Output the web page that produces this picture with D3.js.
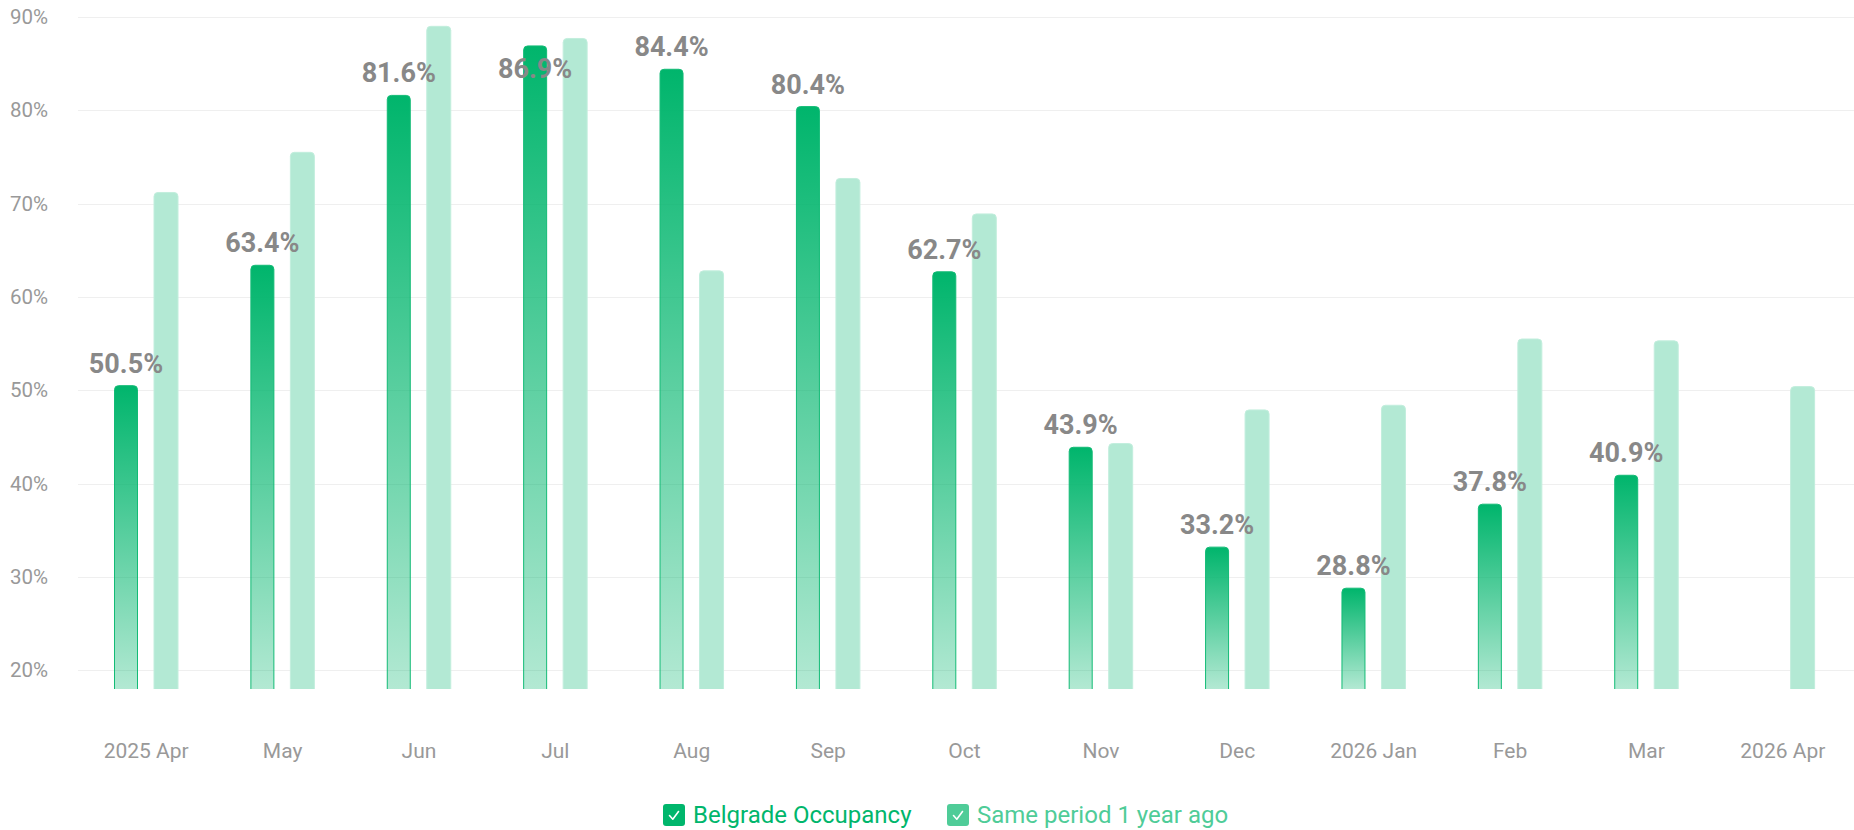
<!DOCTYPE html>
<html>
<head>
<meta charset="utf-8">
<script src="https://cdn.jsdelivr.net/npm/d3@7/dist/d3.min.js"></script>
<style>
  html, body { margin: 0; padding: 0; background: #fff; }
  svg { display: block; font-family: Roboto, "Noto Sans", sans-serif; }
</style>
</head>
<body>
<div id="chart"></div>
<script>
// chart data
const months = ["2025 Apr", "May", "Jun", "Jul", "Aug", "Sep", "Oct", "Nov", "Dec", "2026 Jan", "Feb", "Mar", "2026 Apr"];
const occupancy = [50.5, 63.4, 81.6, 86.9, 84.4, 80.4, 62.7, 43.9, 33.2, 28.8, 37.8, 40.9, null];
const lastYear = [71.2, 75.5, 89.0, 87.7, 62.8, 72.7, 68.9, 44.3, 47.9, 48.4, 55.5, 55.3, 50.4];
const yTicks = [20, 30, 40, 50, 60, 70, 80, 90];
const seriesNames = ["Belgrade Occupancy", "Same period 1 year ago"];

const width = 1854, height = 830;
const margin = {top: 17, right: 3, bottom: 141, left: 78};

const svg = d3.select("#chart")
    .append("svg")
    .attr("width", width)
    .attr("height", height);

// gradient for the current series
const defs = svg.append("defs");
const grad = defs.append("linearGradient")
    .attr("id", "curGrad")
    .attr("x1", 0).attr("y1", 0).attr("x2", 0).attr("y2", 1);
grad.append("stop").attr("offset", "0%").attr("stop-color", "#00b56c").attr("stop-opacity", 1);
grad.append("stop").attr("offset", "100%").attr("stop-color", "#00b56c").attr("stop-opacity", 0.3);

const x = d3.scaleBand()
    .domain(months)
    .range([margin.left, width - margin.right])
    .padding(0);

const xSub = d3.scaleBand()
    .domain(["cur", "prev"])
    .range([36, 100])
    .paddingInner(0.4)
    .paddingOuter(0);

const y = d3.scaleLinear()
    .domain([18, 90])
    .range([height - margin.bottom, margin.top]);

// grid lines
svg.append("g")
    .selectAll("line")
    .data(yTicks)
    .enter()
    .append("line")
    .attr("x1", margin.left)
    .attr("x2", width)
    .attr("y1", d => Math.round(y(d)) + 0.5)
    .attr("y2", d => Math.round(y(d)) + 0.5)
    .attr("stroke", "#efefef")
    .attr("stroke-width", 1);

// y axis labels
const yAxis = svg.append("g")
    .attr("transform", `translate(${margin.left - 30},0)`)
    .call(d3.axisLeft(y).tickValues(yTicks).tickSize(0).tickPadding(0).tickFormat(d => d + "%"));
yAxis.select(".domain").remove();
yAxis.selectAll("text")
    .attr("fill", "#999")
    .style("font-size", "20.5px")
    .style("font-family", "Roboto, sans-serif");

// x axis labels
const xAxis = svg.append("g")
    .attr("transform", `translate(0,${height - margin.bottom})`)
    .call(d3.axisBottom(x).tickSize(0).tickPadding(0));
xAxis.select(".domain").remove();
xAxis.selectAll("text")
    .attr("dy", null)
    .attr("y", 69)
    .attr("fill", "#999")
    .style("font-size", "21px")
    .style("font-family", "Roboto, sans-serif");

// bar with rounded top corners, left open at the bottom so the stroke skips it
function barPath(x0, w, yTop, yBase, r) {
    r = Math.min(r, (yBase - yTop) / 2, w / 2);
    return `M${x0},${yBase}V${yTop + r}Q${x0},${yTop} ${x0 + r},${yTop}H${x0 + w - r}Q${x0 + w},${yTop} ${x0 + w},${yTop + r}V${yBase}`;
}

const base = y(18);
const rows = months.map((m, i) => ({month: m, cur: occupancy[i], prev: lastYear[i]}));

// last year bars
svg.append("g")
    .selectAll("path")
    .data(rows.filter(d => d.prev != null))
    .enter()
    .append("path")
    .attr("d", d => barPath(x(d.month) + xSub("prev"), xSub.bandwidth(), y(d.prev), base, 4))
    .attr("fill", "#b3e9d4")
    .attr("stroke", "#c2eedd")
    .attr("stroke-width", 1);

// current bars
svg.append("g")
    .selectAll("path")
    .data(rows.filter(d => d.cur != null))
    .enter()
    .append("path")
    .attr("d", d => barPath(x(d.month) + xSub("cur") + 0.5, xSub.bandwidth() - 1, y(d.cur), base, 4))
    .attr("fill", "url(#curGrad)")
    .attr("stroke", "#13bb76")
    .attr("stroke-width", 1);

// value labels
svg.append("g")
    .selectAll("text")
    .data(rows.filter(d => d.cur != null))
    .enter()
    .append("text")
    .attr("x", d => x(d.month) + xSub("cur") + xSub.bandwidth() / 2)
    .attr("y", d => {
        const above = y(d.cur) - 13;
        return above - 19 < 20 ? y(d.cur) + 32 : above;
    })
    .attr("text-anchor", "middle")
    .attr("fill", "#888")
    .style("font-size", "27px")
    .style("font-weight", 700)
    .text(d => d.cur.toFixed(1) + "%");

// legend
const legendColors = ["#00b66c", "#4fcc98"];
const legendX = [663, 947];
const legend = svg.append("g")
    .selectAll("g")
    .data(seriesNames)
    .enter()
    .append("g")
    .attr("transform", (d, i) => `translate(${legendX[i]},804)`);

legend.append("rect")
    .attr("width", 22)
    .attr("height", 22)
    .attr("rx", 3)
    .attr("fill", (d, i) => legendColors[i]);

legend.append("path")
    .attr("d", "M6.5,11.5L9.8,15.2L15.5,7.5")
    .attr("fill", "none")
    .attr("stroke", "#fff")
    .attr("stroke-width", 1.6)
    .attr("stroke-linecap", "round")
    .attr("stroke-linejoin", "round");

legend.append("text")
    .attr("x", 30)
    .attr("y", 19)
    .attr("fill", (d, i) => legendColors[i])
    .style("font-size", "24px")
    .text(d => d);
</script>
</body>
</html>
